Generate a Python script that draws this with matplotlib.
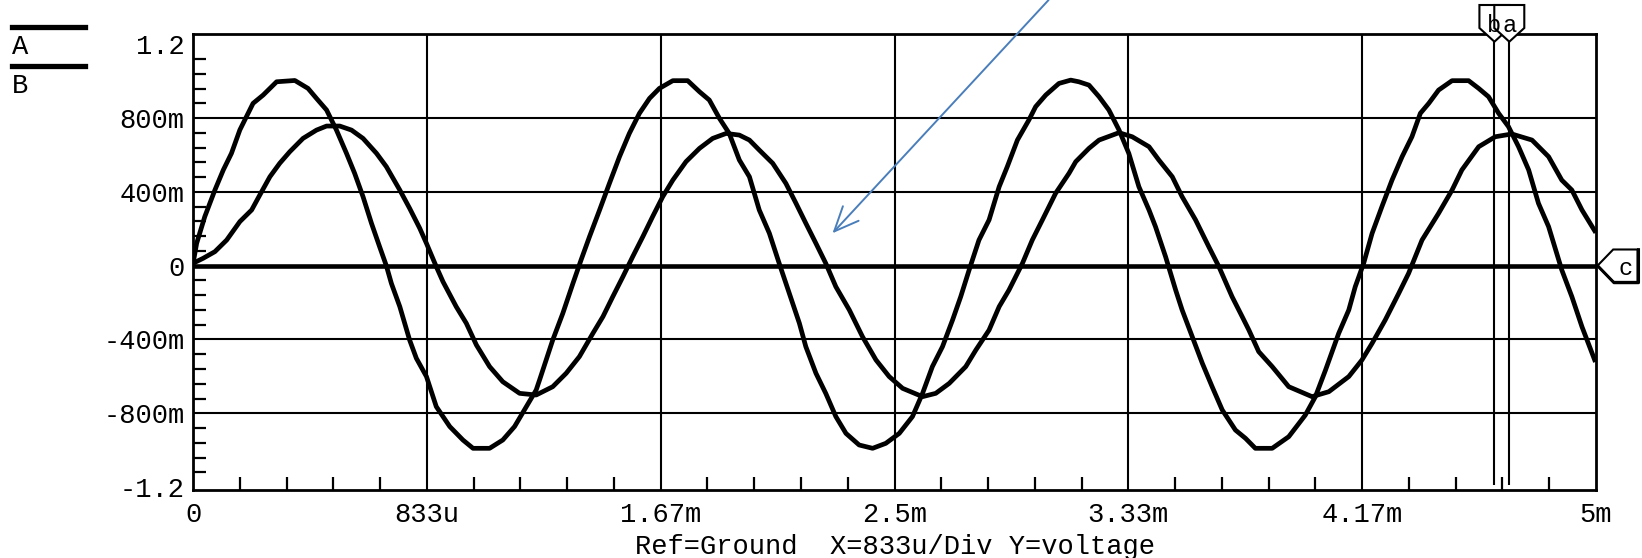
import matplotlib
matplotlib.use("Agg")
import matplotlib.pyplot as plt
import numpy as np
from matplotlib.lines import Line2D
from matplotlib.patches import Polygon
from matplotlib.transforms import IdentityTransform

plt.rcParams["font.family"] = ["Liberation Mono", "DejaVu Sans Mono"]
plt.rcParams["font.size"] = 19.5

# ── data (time in ms, voltage in V) ──
a_t = [0.000, 0.013, 0.042, 0.078, 0.108, 0.137, 0.167, 0.214, 0.250, 0.298,
       0.363, 0.410, 0.440, 0.476, 0.511, 0.547, 0.576, 0.606, 0.636, 0.665,
       0.689, 0.707, 0.737, 0.772, 0.796, 0.832, 0.867, 0.915, 0.962, 0.998,
       1.057, 1.104, 1.146, 1.188, 1.223, 1.235, 1.282, 1.318, 1.354, 1.383,
       1.413, 1.449, 1.484, 1.520, 1.555, 1.591, 1.627, 1.662, 1.710, 1.763,
       1.805, 1.840, 1.876, 1.911, 1.947, 1.983, 2.018, 2.054, 2.089, 2.125,
       2.161, 2.184, 2.220, 2.255, 2.291, 2.327, 2.374, 2.422, 2.469, 2.517,
       2.564, 2.600, 2.635, 2.671, 2.707, 2.736, 2.766, 2.801, 2.837, 2.873,
       2.902, 2.938, 2.979, 3.003, 3.039, 3.086, 3.128, 3.157, 3.193, 3.229,
       3.264, 3.300, 3.335, 3.371, 3.407, 3.430, 3.466, 3.502, 3.525, 3.561,
       3.597, 3.632, 3.668, 3.715, 3.751, 3.786, 3.846, 3.905, 3.964, 4.000,
       4.036, 4.083, 4.119, 4.142, 4.172, 4.202, 4.237, 4.273, 4.309, 4.344,
       4.374, 4.404, 4.439, 4.487, 4.546, 4.582, 4.617, 4.653, 4.688, 4.724,
       4.760, 4.795, 4.831, 4.878, 4.914, 4.950, 4.995]
a_v = [0.010, 0.121, 0.266, 0.410, 0.519, 0.609, 0.736, 0.880, 0.925, 0.997,
       1.004, 0.961, 0.907, 0.844, 0.736, 0.609, 0.501, 0.374, 0.230, 0.103,
       0.000, -0.096, -0.222, -0.403, -0.502, -0.601, -0.764, -0.872, -0.945, -0.990,
       -0.990, -0.945, -0.872, -0.764, -0.674, -0.620, -0.403, -0.258, -0.096, 0.031,
       0.157, 0.302, 0.446, 0.591, 0.717, 0.826, 0.907, 0.961, 1.003, 1.003,
       0.943, 0.898, 0.799, 0.717, 0.573, 0.482, 0.302, 0.176, 0.013, -0.150,
       -0.312, -0.439, -0.583, -0.692, -0.818, -0.909, -0.972, -0.990, -0.963, -0.909,
       -0.818, -0.692, -0.547, -0.439, -0.294, -0.168, -0.023, 0.139, 0.248, 0.428,
       0.537, 0.681, 0.790, 0.862, 0.925, 0.988, 1.006, 0.997, 0.979, 0.916,
       0.844, 0.736, 0.609, 0.428, 0.302, 0.212, 0.049, -0.132, -0.240, -0.385,
       -0.529, -0.656, -0.782, -0.891, -0.936, -0.990, -0.990, -0.927, -0.810, -0.710,
       -0.566, -0.367, -0.240, -0.114, 0.013, 0.175, 0.320, 0.464, 0.591, 0.699,
       0.826, 0.880, 0.952, 1.003, 1.003, 0.961, 0.916, 0.826, 0.754, 0.645,
       0.519, 0.338, 0.212, -0.023, -0.168, -0.331, -0.510]

b_t = [0.000, 0.036, 0.078, 0.120, 0.167, 0.209, 0.238, 0.274, 0.309, 0.345,
       0.392, 0.440, 0.476, 0.523, 0.565, 0.606, 0.654, 0.689, 0.737, 0.772,
       0.808, 0.832, 0.867, 0.891, 0.938, 0.974, 1.010, 1.057, 1.104, 1.164,
       1.223, 1.282, 1.330, 1.377, 1.425, 1.461, 1.496, 1.532, 1.567, 1.603,
       1.638, 1.674, 1.710, 1.757, 1.805, 1.852, 1.900, 1.947, 1.983, 2.018,
       2.066, 2.113, 2.149, 2.184, 2.220, 2.255, 2.291, 2.339, 2.386, 2.434,
       2.481, 2.529, 2.600, 2.647, 2.695, 2.754, 2.790, 2.837, 2.873, 2.908,
       2.956, 2.991, 3.027, 3.074, 3.122, 3.146, 3.193, 3.229, 3.300, 3.347,
       3.407, 3.442, 3.490, 3.525, 3.573, 3.620, 3.656, 3.703, 3.739, 3.763,
       3.798, 3.846, 3.905, 3.988, 4.048, 4.119, 4.166, 4.202, 4.249, 4.297,
       4.332, 4.380, 4.439, 4.487, 4.522, 4.582, 4.641, 4.700, 4.772, 4.831,
       4.878, 4.914, 4.950, 4.995]
b_v = [0.013, 0.040, 0.076, 0.139, 0.239, 0.302, 0.383, 0.482, 0.555, 0.618,
       0.690, 0.735, 0.757, 0.757, 0.735, 0.690, 0.609, 0.537, 0.410, 0.311,
       0.203, 0.121, -0.005, -0.087, -0.222, -0.312, -0.430, -0.547, -0.629, -0.692,
       -0.701, -0.656, -0.583, -0.493, -0.367, -0.276, -0.168, -0.060, 0.049, 0.157,
       0.266, 0.374, 0.464, 0.564, 0.636, 0.690, 0.717, 0.708, 0.681, 0.627,
       0.555, 0.446, 0.338, 0.230, 0.121, 0.013, -0.114, -0.240, -0.385, -0.511,
       -0.601, -0.665, -0.710, -0.692, -0.638, -0.547, -0.457, -0.349, -0.222, -0.132,
       0.013, 0.139, 0.248, 0.392, 0.501, 0.564, 0.636, 0.681, 0.721, 0.699,
       0.645, 0.573, 0.482, 0.374, 0.248, 0.103, -0.005, -0.168, -0.276, -0.349,
       -0.466, -0.547, -0.656, -0.710, -0.683, -0.601, -0.511, -0.421, -0.294, -0.150,
       -0.042, 0.139, 0.284, 0.410, 0.519, 0.645, 0.699, 0.714, 0.681, 0.591,
       0.464, 0.410, 0.302, 0.190]

x_div = 5e-3 / 6
x_ticks = [i * x_div for i in range(7)]
x_labels = ["0", "833u", "1.67m", "2.5m", "3.33m", "4.17m", "5m"]
y_ticks = [-1.2, -0.8, -0.4, 0.0, 0.4, 0.8, 1.2]
y_labels = ["-1.2", "-800m", "-400m", "0", "400m", "800m", "1.2"]
y_grid = [-0.8, -0.4, 0.4, 0.8]

cursor_b = 4.638e-3
cursor_a = 4.691e-3
cursor_c = 0.0

arrow_tip = (2.279e-3, 0.176)
arrow_tail = (3.049e-3, 1.44)

footer = "Ref=Ground  X=833u/Div Y=voltage"

# ── figure ──
fig = plt.figure(figsize=(16.42, 5.58), dpi=100)
ax = fig.add_axes([193 / 1642, 68 / 558, 1403 / 1642, 456 / 558])
ax.set_xlim(0, 5e-3)
ax.set_ylim(-1.216, 1.256)

for x in x_ticks[1:-1]:
    ax.axvline(x, color="black", lw=1.5, zorder=1)
for y in y_grid:
    ax.axhline(y, color="black", lw=1.5, zorder=1)
ax.axhline(cursor_c, color="black", lw=3.3, zorder=2)

ax.plot(np.array(a_t) * 1e-3, a_v, color="black", lw=3.4, solid_joinstyle="round", zorder=3)
ax.plot(np.array(b_t) * 1e-3, b_v, color="black", lw=3.4, solid_joinstyle="round", zorder=3)

ax.vlines([cursor_b, cursor_a], -1.19, 1.256, color="black", lw=1.5, zorder=4)

ax.set_xticks(x_ticks)
ax.set_xticklabels(x_labels)
ax.set_yticks(y_ticks)
ax.set_yticklabels(y_labels)
ax.set_xticks([i * x_div / 5 for i in range(1, 30) if i % 5], minor=True)
ax.set_yticks([-1.2 + 0.08 * i for i in range(1, 30) if i % 5], minor=True)
ax.tick_params(which="major", length=0)
ax.tick_params(axis="x", which="major", pad=8.5)
ax.tick_params(axis="y", which="major", pad=6)
ax.tick_params(which="minor", direction="in", length=9.5, width=1.6)
for s in ax.spines.values():
    s.set_linewidth(2)
ax.set_xlabel(footer, labelpad=4.5)

ax.annotate("", xy=arrow_tip, xytext=arrow_tail, annotation_clip=False,
            arrowprops=dict(arrowstyle="->,head_length=0.8,head_width=0.35",
                            color="#4a7ebb", lw=1.4, mutation_scale=22,
                            shrinkA=0, shrinkB=0))

# legend at top left
for y_line, y_txt, name in [(26.7, 54, "A"), (66, 93.3, "B")]:
    fig.add_artist(Line2D([12 / 1642, 85 / 1642], [1 - y_line / 558] * 2,
                          transform=fig.transFigure, color="black", lw=3.8))
    fig.text(12 / 1642, 1 - y_txt / 558, name, ha="left", va="baseline")

# cursor markers
ident = IdentityTransform()
top = ax.transAxes.transform((0, 1))[1]
for cx, name in [(cursor_b, "b"), (cursor_a, "a")]:
    px = ax.transData.transform((cx, 0))[0]
    verts = [(px, top - 7.7), (px - 15, top + 6), (px - 15, top + 29),
             (px + 15, top + 29), (px + 15, top + 6)]
    fig.add_artist(Polygon(verts, closed=True, fc="white", ec="black", lw=1.5,
                           transform=ident, zorder=10))
    fig.text(px, top + 9, name, transform=ident, ha="center", va="center",
             fontsize=17, zorder=11)

right = ax.transAxes.transform((1, 0))[0]
py = ax.transData.transform((0, cursor_c))[1]
tip = right + 1.5
verts = [(tip, py), (tip + 15.7, py + 16.2), (tip + 40, py + 16.2),
         (tip + 40, py - 16.2), (tip + 15.7, py - 16.2)]
fig.add_artist(Polygon(verts, closed=True, fc="white", ec="black", lw=1.5,
                       transform=ident, zorder=10))
fig.add_artist(Line2D([tip + 1, tip + 16.5, tip + 41, tip + 41],
                      [py - 1, py - 17, py - 17, py + 16],
                      transform=ident, color="black", lw=2.2, zorder=10))
fig.text(tip + 28, py - 3, "c", transform=ident, ha="center", va="center",
         fontsize=17, zorder=11)

fig.savefig("out.png", dpi=100)
